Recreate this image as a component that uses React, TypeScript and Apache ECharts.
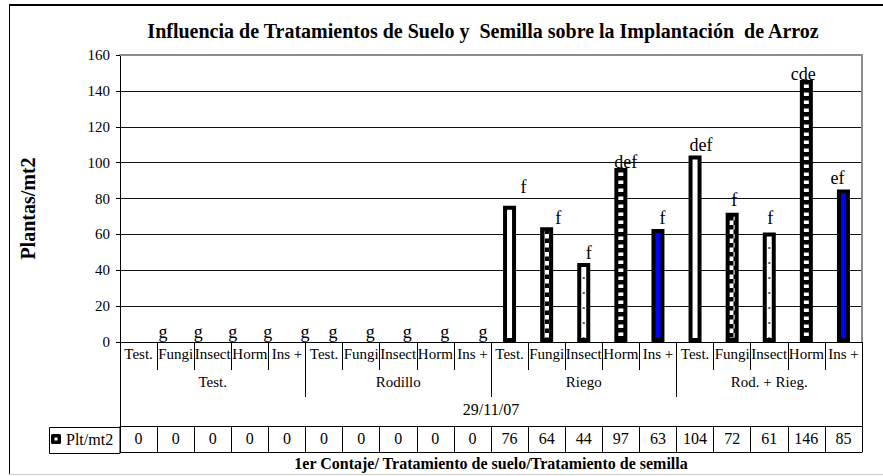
import React, { useEffect, useRef } from "react";
import * as echarts from "echarts";

// ---------- data ----------
const chartTitle = "Influencia de Tratamientos de Suelo y  Semilla sobre la Implantación  de Arroz";
const yAxisTitle = "Plantas/mt2";
const xAxisTitle = "1er Contaje/ Tratamiento de suelo/Tratamiento de semilla";
const countDate = "29/11/07";
const seriesName = "Plt/mt2";
const seedTreatments = ["Test.", "Fungi", "Insect", "Horm", "Ins +"];
const soilTreatments = ["Test.", "Rodillo", "Riego", "Rod. + Rieg."];
const plantsPerM2 = [0, 0, 0, 0, 0, 0, 0, 0, 0, 0, 76, 64, 44, 97, 63, 104, 72, 61, 146, 85];
const significance = ["g", "g", "g", "g", "g", "g", "g", "g", "g", "g", "f", "f", "f", "def", "f", "def", "f", "f", "cde", "ef"];
const yMin = 0;
const yMax = 160;
const yStep = 20;

// ---------- layout / style (not data) ----------
const W = 883;
const H = 476;
const GRID_LEFT = 120;
const GRID_RIGHT_X = 862;
const GRID_TOP = 55;
const GRID_BOTTOM_Y = 343;
const CAT_W = (GRID_RIGHT_X - GRID_LEFT) / 20;
const FONT = "Liberation Serif";
const labelShift: number[][] = [
  [24.5, 4], [22.5, 4], [20, 4], [18, 4], [18, 4], [9, 4], [9, 4], [9, 4], [9.5, 4], [10.5, 4],
  [14, -4.5], [11.5, 4.5], [5, 3.5], [5, 8], [4.5, 2.6], [6, 4], [2, 1], [1, -1], [-3, 8], [-6, 2],
];

function svgUrl(svg: string) {
  return "data:image/svg+xml;charset=utf-8," + encodeURIComponent(svg);
}

function makePatterns() {
  const checker = {
    image: svgUrl(
      '<svg xmlns="http://www.w3.org/2000/svg" width="9" height="9"><rect width="9" height="9" fill="#fff"/><rect x="0" y="0" width="4.5" height="4.5" fill="#000"/><rect x="4.5" y="4.5" width="4.5" height="4.5" fill="#000"/></svg>'
    ),
    repeat: "repeat",
    imageWidth: 9,
    imageHeight: 9,
  };
  const stripes = {
    image: svgUrl(
      '<svg xmlns="http://www.w3.org/2000/svg" width="4" height="8"><rect width="4" height="8" fill="#fff"/><rect x="0" y="0" width="4" height="4.5" fill="#000"/></svg>'
    ),
    repeat: "repeat",
    imageWidth: 4,
    imageHeight: 8,
  };
  const cx = (GRID_LEFT + CAT_W / 2) % CAT_W;
  const dots = {
    image: svgUrl(
      `<svg xmlns="http://www.w3.org/2000/svg" width="${CAT_W}" height="15"><rect width="${CAT_W}" height="15" fill="#fff"/><rect x="${cx - 1}" y="7" width="2" height="2" fill="#555"/></svg>`
    ),
    repeat: "repeat",
    imageWidth: CAT_W,
    imageHeight: 15,
  };
  return ["#ffffff", checker, dots, stripes, "#0000ff"];
}

const legendIcon =
  "image://" +
  svgUrl(
    '<svg xmlns="http://www.w3.org/2000/svg" width="10" height="10"><rect x="0" y="0" width="10" height="10" rx="1.5" fill="#000"/><rect x="3.5" y="3.5" width="3" height="3" fill="#fff"/></svg>'
  );

export default function App() {
  const ref = useRef<HTMLDivElement>(null);

  useEffect(() => {
    if (!ref.current) return;
    const chart = echarts.init(ref.current, undefined, { renderer: "svg", width: W, height: H });
    const fills = makePatterns();
    const categories = soilTreatments.flatMap(() => seedTreatments);

    const barData = plantsPerM2.map((v, i) => ({
      value: v,
      itemStyle: {
        color: fills[i % seedTreatments.length] as any,
        borderWidth: v === 0 ? 0 : 4,
        borderColor: "#000",
      },
      label: {
        offset: labelShift[i],
      },
    }));

    const baseAxis = {
      gridIndex: 0,
      type: "category" as const,
      position: "bottom" as const,
      boundaryGap: true,
      axisLabel: { show: false },
      axisTick: { show: false },
      axisLine: { show: false },
      splitLine: { show: false },
    };

    chart.setOption({
      animation: false,
      backgroundColor: "#ffffff",
      textStyle: { fontFamily: FONT, color: "#000" },
      grid: {
        left: GRID_LEFT,
        right: W - GRID_RIGHT_X,
        top: GRID_TOP,
        bottom: H - GRID_BOTTOM_Y,
        containLabel: false,
      },
      legend: {
        show: true,
        left: 51,
        top: 431,
        padding: 0,
        itemWidth: 10,
        itemHeight: 10,
        itemGap: 5,
        icon: legendIcon,
        data: [seriesName],
        textStyle: { fontFamily: FONT, fontSize: 16, color: "#000" },
        selectedMode: false,
      },
      xAxis: [
        // seed treatment labels
        {
          ...baseAxis,
          data: categories,
          axisLine: { show: true, lineStyle: { color: "#000", width: 1 } },
          axisTick: { show: true, length: 28, interval: 0, lineStyle: { color: "#000" } },
          axisLabel: {
            show: true,
            interval: 0,
            margin: 4,
            fontFamily: FONT,
            fontSize: 15,
            color: "#000",
          },
          name: countDate,
          nameLocation: "middle",
          nameGap: 59,
          nameTextStyle: { fontFamily: FONT, fontSize: 16, color: "#000" },
        },
        // soil treatment groups
        {
          ...baseAxis,
          data: soilTreatments,
          axisTick: { show: true, length: 55, interval: 0, lineStyle: { color: "#000" } },
          axisLabel: {
            show: true,
            interval: 0,
            margin: 32,
            fontFamily: FONT,
            fontSize: 15,
            color: "#000",
          },
        },
        // outer frame of the category area
        {
          ...baseAxis,
          data: [""],
          axisTick: { show: true, length: 110, lineStyle: { color: "#000" } },
        },
        // data table
        {
          ...baseAxis,
          offset: 84,
          data: plantsPerM2.map(String),
          axisLine: { show: true, lineStyle: { color: "#000", width: 1 } },
          axisTick: { show: true, length: 26, interval: 0, lineStyle: { color: "#000" } },
          axisLabel: {
            show: true,
            interval: 0,
            margin: 4,
            fontFamily: FONT,
            fontSize: 16,
            color: "#000",
          },
        },
        // bottom line of table + axis title
        {
          ...baseAxis,
          offset: 110,
          data: [""],
          axisLine: { show: true, lineStyle: { color: "#000", width: 1 } },
          name: xAxisTitle,
          nameLocation: "middle",
          nameGap: 3,
          nameTextStyle: { fontFamily: FONT, fontSize: 16, fontWeight: "bold", color: "#000" },
        },
        // top border of plot area
        {
          ...baseAxis,
          position: "top",
          data: [""],
          axisLine: { show: true, lineStyle: { color: "#8c8c8c", width: 2 } },
        },
      ],
      yAxis: [
        {
          type: "value",
          gridIndex: 0,
          position: "left",
          min: yMin,
          max: yMax,
          interval: yStep,
          axisLine: { show: true, lineStyle: { color: "#000", width: 1 } },
          axisTick: { show: true, inside: false, length: 4, lineStyle: { color: "#000" } },
          axisLabel: { margin: 10, fontFamily: FONT, fontSize: 15, color: "#000" },
          splitLine: { show: true, lineStyle: { color: "#111", width: 1 } },
          name: yAxisTitle,
          nameLocation: "middle",
          nameRotate: 90,
          nameGap: 82,
          nameTextStyle: {
            fontFamily: FONT,
            fontSize: 20,
            fontWeight: "bold",
            color: "#000",
            padding: [0, 20, 0, 0],
          },
        },
        {
          type: "value",
          gridIndex: 0,
          position: "right",
          min: yMin,
          max: yMax,
          interval: yStep,
          axisLine: { show: true, lineStyle: { color: "#8c8c8c", width: 2 } },
          axisTick: { show: false },
          axisLabel: { show: false },
          splitLine: { show: false },
        },
      ],
      series: [
        {
          name: seriesName,
          type: "bar",
          xAxisIndex: 0,
          yAxisIndex: 0,
          barWidth: 13,
          itemStyle: { color: "#ffffff", borderColor: "#000", borderWidth: 4 },
          label: {
            show: true,
            position: "top",
            distance: 5,
            fontFamily: FONT,
            fontSize: 18,
            color: "#000",
            formatter: (p: any) => significance[p.dataIndex],
          },
          data: barData,
          z: 3,
        },
      ],
      graphic: [
        {
          type: "text",
          x: 483,
          y: 31,
          style: {
            text: chartTitle,
            fontFamily: FONT,
            fontSize: 20,
            fontWeight: "bold",
            fill: "#000",
            textAlign: "center",
            textVerticalAlign: "middle",
          },
        },
        {
          type: "rect",
          shape: { x: 49.5, y: 427.5, width: GRID_LEFT - 49.5, height: 26 },
          style: { fill: "none", stroke: "#000", lineWidth: 1 },
          silent: true,
        },
        {
          type: "line",
          shape: { x1: 9, y1: 5, x2: W, y2: 5 },
          style: { stroke: "#000", lineWidth: 2 },
          silent: true,
        },
        {
          type: "line",
          shape: { x1: 9.5, y1: 5, x2: 9.5, y2: 474 },
          style: { stroke: "#000", lineWidth: 1 },
          silent: true,
        },
        {
          type: "line",
          shape: { x1: 9, y1: 474.5, x2: W, y2: 474.5 },
          style: { stroke: "#cfcfcf", lineWidth: 1 },
          silent: true,
        },
      ],
    });

    return () => {
      chart.dispose();
    };
  }, []);

  return (
    <div
      ref={ref}
      style={{ position: "fixed", left: 0, top: 0, width: W, height: H, background: "#fff" }}
    />
  );
}
